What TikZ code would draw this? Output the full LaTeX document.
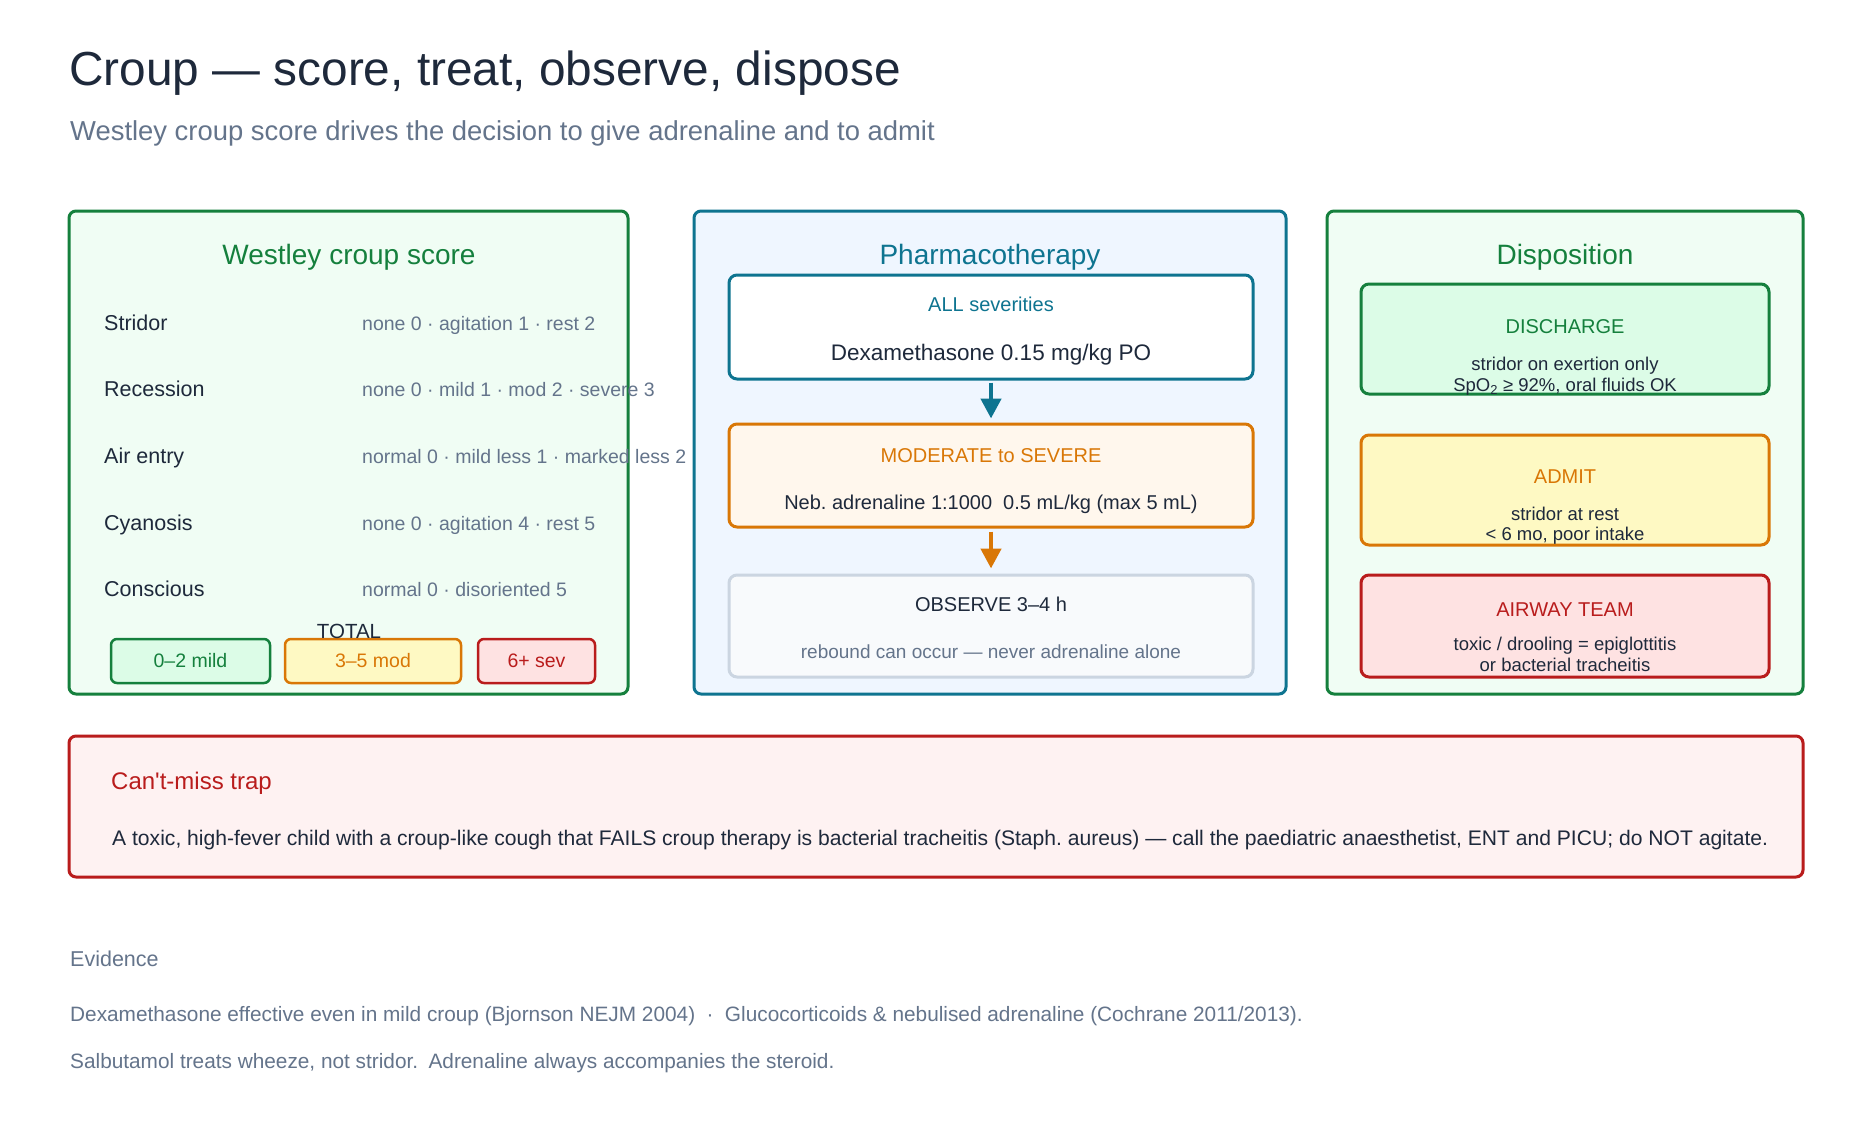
\documentclass[tikz,border=0pt]{standalone}
\usepackage{fontspec}
\setmainfont{Liberation Sans}
\frenchspacing
\usetikzlibrary{arrows.meta,calc}
\definecolor{ink}{HTML}{1E293B}
\definecolor{muted}{HTML}{64748B}
\definecolor{grn}{HTML}{15803D}
\definecolor{grnbg}{HTML}{F0FDF4}
\definecolor{grnfill}{HTML}{DCFCE7}
\definecolor{tealc}{HTML}{0E7490}
\definecolor{bluebg}{HTML}{EFF6FF}
\definecolor{orng}{HTML}{D97706}
\definecolor{orngbg}{HTML}{FFF7ED}
\definecolor{yelfill}{HTML}{FEF9C3}
\definecolor{redc}{HTML}{B91C1C}
\definecolor{redfill}{HTML}{FEE2E2}
\definecolor{redbg}{HTML}{FEF2F2}
\definecolor{grayb}{HTML}{CBD5E1}
\definecolor{graybg}{HTML}{F8FAFC}
\tikzset{
  panel/.style={draw, line width=3pt, rounded corners=7pt, inner sep=0pt},
  ibox/.style={draw, line width=3pt, rounded corners=8pt, inner sep=0pt},
  band/.style={draw, line width=2.5pt, rounded corners=6pt, inner sep=0pt},
  txt/.style={inner sep=0pt, anchor=base},
  txtw/.style={inner sep=0pt, anchor=base west},
  fnt/.style={font=\fontsize{#1}{#1}\selectfont},
  flow/.style={line width=4.5pt, -{Triangle[length=20pt,width=20pt]}},
}
\begin{document}
\begin{tikzpicture}[x=1pt,y=-1pt]
\useasboundingbox[fill=white] (0,0) rectangle (1873,1140);

% title
\node[txtw, fnt=47.8, text=ink] (title) at (69,85) {Croup — score, treat, observe, dispose};
\node[txtw, fnt=27.4, text=muted] (subtitle) at (70,140) {Westley croup score drives the decision to give adrenaline and to admit};

% panels
\node[panel, draw=grn, fill=grnbg, minimum width=559pt, minimum height=483pt] (p1) at (348.5,452.5) {};
\node[panel, draw=tealc, fill=bluebg, minimum width=592pt, minimum height=483pt] (p2) at (990,452.5) {};
\node[panel, draw=grn, fill=grnbg, minimum width=476pt, minimum height=483pt] (p3) at (1565,452.5) {};

\node[txt, fnt=28, text=grn] (t1) at (349,264) {Westley croup score};
\node[txt, fnt=28, text=tealc] (t2) at (990,264) {Pharmacotherapy};
\node[txt, fnt=28, text=grn] (t3) at (1565,264) {Disposition};

% Westley rows
\node[txtw, fnt=21.5, text=ink] (r1) at (104,330) {Stridor};
\node[txtw, fnt=21.5, text=ink] (r2) at (104,396) {Recession};
\node[txtw, fnt=21.5, text=ink] (r3) at (104,463) {Air entry};
\node[txtw, fnt=21.5, text=ink] (r4) at (104,530) {Cyanosis};
\node[txtw, fnt=21.5, text=ink] (r5) at (104,596) {Conscious};
\node[txtw, fnt=19.5, text=muted] (v1) at (362,330) {none 0 · agitation 1 · rest 2};
\node[txtw, fnt=19.5, text=muted] (v2) at (362,396) {none 0 · mild 1 · mod 2 · severe 3};
\node[txtw, fnt=19.5, text=muted] (v3) at (362,463) {normal 0 · mild less 1 · marked less 2};
\node[txtw, fnt=19.5, text=muted] (v4) at (362,530) {none 0 · agitation 4 · rest 5};
\node[txtw, fnt=19.5, text=muted] (v5) at (362,596) {normal 0 · disoriented 5};

% bands
\node[band, draw=grn, fill=grnfill, minimum width=159pt, minimum height=44pt] (b1) at (190.5,661) {};
\node[band, draw=orng, fill=yelfill, minimum width=176pt, minimum height=44pt] (b2) at (373,661) {};
\node[band, draw=redc, fill=redfill, minimum width=117pt, minimum height=44pt] (b3) at (536.5,661) {};
\node[txt, fnt=19.5, text=grn] (bt1) at (190.5,667.5) {0–2 mild};
\node[txt, fnt=19.5, text=orng] (bt2) at (373,667.5) {3–5 mod};
\node[txt, fnt=19.5, text=redc] (bt3) at (536.5,667.5) {6+ sev};
\node[txt, fnt=20.5, text=ink] (total) at (349,638.5) {TOTAL};

% Pharmacotherapy
\node[ibox, draw=tealc, fill=white, minimum width=524pt, minimum height=104pt] (dex) at (991,327) {};
\node[txt, fnt=20, text=tealc] (dexh) at (991,311.5) {ALL severities};
\node[txt, fnt=22.5, text=ink] (dext) at (991,360) {Dexamethasone 0.15 mg/kg PO};

\node[ibox, draw=orng, fill=orngbg, minimum width=524pt, minimum height=103pt] (mod) at (991,475.5) {};
\node[txt, fnt=20, text=orng] (modh) at (991,462) {MODERATE to SEVERE};
\node[txt, fnt=20, text=ink] (modt) at (991,509) {Neb. adrenaline 1:1000\hspace{0.55em}0.5 mL/kg (max 5 mL)};

\node[ibox, draw=grayb, fill=graybg, minimum width=524pt, minimum height=102pt] (obs) at (991,626) {};
\node[txt, fnt=20, text=ink] (obsh) at (991,611.5) {OBSERVE 3–4 h};
\node[txt, fnt=19, text=muted] (obst) at (991,658) {rebound can occur — never adrenaline alone};

\draw[flow, tealc, shorten <=2pt, shorten >=4pt] (dex.south) -- (mod.north);
\draw[flow, orng, shorten <=3pt, shorten >=5pt] (mod.south) -- (obs.north);

% Disposition
\node[ibox, draw=grn, fill=grnfill, minimum width=408pt, minimum height=110pt] (dis) at (1565,339) {};
\node[txt, fnt=20, text=grn] (dish) at (1565,333) {DISCHARGE};
\node[txt, fnt=18.5, text=ink] (dis1) at (1565,370.5) {stridor on exertion only};
\node[txt, fnt=18.5, text=ink] (dis2) at (1565,391) {SpO\textsubscript{2} ≥ 92\%, oral fluids OK};

\node[ibox, draw=orng, fill=yelfill, minimum width=408pt, minimum height=110pt] (adm) at (1565,490) {};
\node[txt, fnt=20, text=orng] (admh) at (1565,483.5) {ADMIT};
\node[txt, fnt=18.5, text=ink] (adm1) at (1565,520) {stridor at rest};
\node[txt, fnt=18.5, text=ink] (adm2) at (1565,540) {< 6 mo, poor intake};

\node[ibox, draw=redc, fill=redfill, minimum width=408pt, minimum height=102pt] (air) at (1565,626) {};
\node[txt, fnt=20, text=redc] (airh) at (1565,616) {AIRWAY TEAM};
\node[txt, fnt=18.5, text=ink] (air1) at (1565,650) {toxic / drooling = epiglottitis};
\node[txt, fnt=18.5, text=ink] (air2) at (1565,671) {or bacterial tracheitis};

% trap
\node[panel, draw=redc, fill=redbg, minimum width=1734pt, minimum height=141pt] (trap) at (936,806.5) {};
\node[txtw, fnt=24, text=redc] (traph) at (111,789) {Can\textquotesingle t-miss trap};
\node[txtw, fnt=21.1, text=ink] (trapt) at (112,845.5) {A toxic, high-fever child with a croup-like cough that FAILS croup therapy is bacterial tracheitis (Staph. aureus) — call the paediatric anaesthetist, ENT and PICU; do NOT agitate.};

% evidence
\node[txtw, fnt=21.5, text=muted] (evh) at (70,966) {Evidence};
\node[txtw, fnt=20.8, text=muted] (ev1) at (70,1021) {Dexamethasone effective even in mild croup (Bjornson NEJM 2004)\hspace{0.55em}·\hspace{0.55em}Glucocorticoids \& nebulised adrenaline (Cochrane 2011/2013).};
\node[txtw, fnt=20.8, text=muted] (ev2) at (70,1068) {Salbutamol treats wheeze, not stridor.\hspace{0.5em}Adrenaline always accompanies the steroid.};
\end{tikzpicture}
\end{document}
